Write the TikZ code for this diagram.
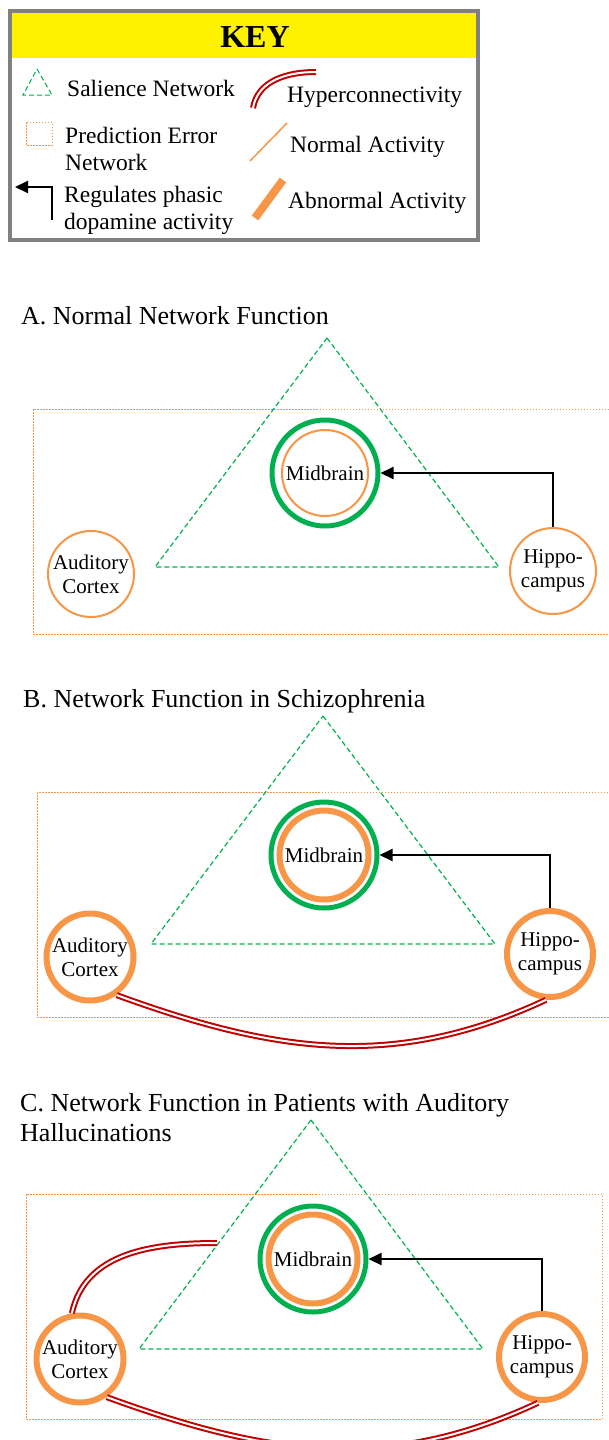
\documentclass[tikz,border=0pt]{standalone}
\usepackage{fontspec}
\setmainfont{Liberation Serif}
\usetikzlibrary{arrows.meta}
\definecolor{salgreen}{HTML}{00B050}
\definecolor{actorange}{HTML}{F79646}
\definecolor{hyred}{HTML}{C00000}
\definecolor{keygray}{HTML}{808080}

\begin{document}
\begin{tikzpicture}[x=1pt,y=-1pt,
	region/.style={circle, minimum size=86, inner sep=0, align=center, font=\fontsize{21}{24}\selectfont},
	normalact/.style={draw=actorange, line width=2},
	abnormalact/.style={draw=actorange, line width=6},
	salring/.style={circle, draw=salgreen, line width=5, minimum size=106, inner sep=0},
	salnet/.style={draw=salgreen, dash pattern=on 5 off 3, line width=1.2},
	prednet/.style={draw=actorange, dash pattern=on 1.5 off 1.5, line width=1},
	hyper/.style={draw=hyred, line width=2, double=white, double distance=2},
	phasic/.style={-{Triangle[length=13,width=12]}, line width=2},
	keytext/.style={inner sep=0, anchor=west, align=left, font=\fontsize{23.5}{27}\selectfont},
	paneltitle/.style={inner sep=0, anchor=base west, align=left, font=\fontsize{26}{30}\selectfont}]
	\useasboundingbox (0,0) rectangle (608,1440);

	% key
	\draw[keygray, line width=4] (10,11) rectangle (478,240);
	\fill[yellow] (12,13) rectangle (476,58);
	\node[inner sep=0, font=\bfseries\fontsize{32}{36}\selectfont] (keytitle) at (255,37) {KEY};

	\draw[salnet, line width=1] (37,69) -- (52,95) -- (23,95) -- cycle;
	\node[keytext] (keysal) at (67,88) {Salience Network};
	\draw[prednet] (26,122) rectangle (52,145);
	\node[keytext] (keypred) at (65,149) {Prediction Error\\Network};
	\coordinate (keyregtail) at (52,220);
	\coordinate (keyregtip) at (15,187);
	\draw[phasic] (keyregtail) |- (keyregtip);
	\node[keytext] (keyreg) at (64,210) {Regulates phasic\\dopamine activity};

	\coordinate (keyhyperA) at (253,108);
	\coordinate (keyhyperB) at (316,72);
	\draw[hyper] (keyhyperA) to[out=80,in=180] (keyhyperB);
	\node[keytext] (keyhyper) at (287,97) {Hyperconnectivity};
	\coordinate (keynormA) at (250,161);
	\coordinate (keynormB) at (287,123);
	\draw[normalact, line width=1.5] (keynormA) -- (keynormB);
	\node[keytext] (keynorm) at (290,147) {Normal Activity};
	\coordinate (keyabnA) at (255,218);
	\coordinate (keyabnB) at (283,180);
	\draw[abnormalact, line width=8] (keyabnA) -- (keyabnB);
	\node[keytext] (keyabn) at (288,203) {Abnormal Activity};

	% A. normal
	\node[paneltitle] (titleA) at (21,324) {A. Normal Network Function};
	\draw[prednet] (33,409) rectangle (612,634);
	\draw[salnet] (327,338) -- +(172,229) -- +(-172,229) -- cycle;
	\node[salring] (midA) at (325,473) {};
	\node[region, normalact] (midAin) at (325,473) {Midbrain};
	\node[region, normalact] (audA) at (91,574) {Auditory\\Cortex};
	\node[region, normalact] (hipA) at (553,571) {Hippo-\\campus};
	\draw[phasic] (hipA.north) |- (midA.east);

	% B. schizophrenia
	\node[paneltitle] (titleB) at (23,707) {B. Network Function in Schizophrenia};
	\draw[prednet] (37,792) rectangle (612,1017);
	\draw[salnet] (323,716) -- +(172,228) -- +(-172,228) -- cycle;
	\node[salring] (midB) at (324,855) {};
	\node[region, abnormalact, minimum size=89] (midBin) at (324,855) {Midbrain};
	\node[region, abnormalact, minimum size=87] (audB) at (90,957) {Auditory\\Cortex};
	\node[region, abnormalact] (hipB) at (550,954) {Hippo-\\campus};
	\draw[phasic] (hipB.north) |- (midB.east);
	\draw[hyper] (audB.-55) to[out=-20,in=-155] (hipB.-95);

	% C. auditory hallucinations
	\node[paneltitle] (titleC) at (20,1141) {C. Network Function in Patients with Auditory\\Hallucinations};
	\draw[prednet] (26,1194) rectangle (602,1419);
	\draw[salnet] (311,1120) -- +(172,229) -- +(-172,229) -- cycle;
	\node[salring] (midC) at (313,1259) {};
	\node[region, abnormalact, minimum size=89] (midCin) at (313,1259) {Midbrain};
	\node[region, abnormalact, minimum size=87] (audC) at (80,1359) {Auditory\\Cortex};
	\node[region, abnormalact] (hipC) at (542,1357) {Hippo-\\campus};
	\draw[phasic] (hipC.north) |- (midC.east);
	\coordinate (hyperCend) at (217,1243);
	\draw[hyper] (audC.100) to[out=78,in=180] (hyperCend);
	\draw[hyper] (audC.-55) to[out=-20,in=-155] (hipC.-95);
\end{tikzpicture}
\end{document}
